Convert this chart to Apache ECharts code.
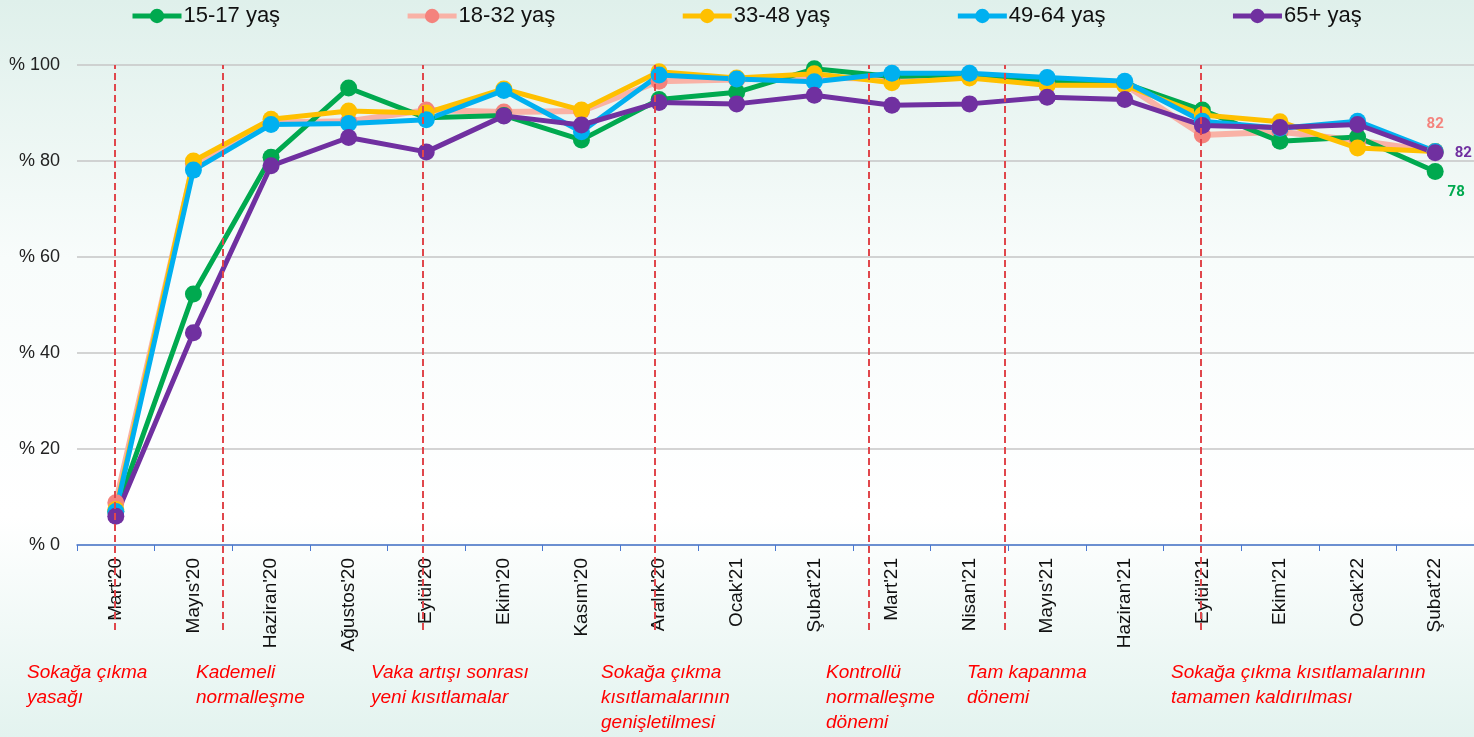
<!DOCTYPE html>
<html>
<head>
<meta charset="utf-8">
<script src="https://cdn.jsdelivr.net/npm/echarts@6/dist/echarts.min.js"></script>
<style>
html,body{margin:0;padding:0;}
#c{width:1474px;height:737px;}
</style>
</head>
<body>
<div id="c"></div>
<script>
const categories = ["Mart'20","Mayıs'20","Haziran'20","Ağustos'20","Eylül'20","Ekim'20","Kasım'20","Aralık'20","Ocak'21","Şubat'21","Mart'21","Nisan'21","Mayıs'21","Haziran'21","Eylül'21","Ekim'21","Ocak'22","Şubat'22"];
const s15_17 = [7, 52.3, 80.8, 95.2, 89, 89.5, 84.4, 92.8, 94.3, 99.2, 97.6, 98, 96.6, 96.2, 90.6, 84.1, 85, 77.8];
const s18_32 = [8.8, 79.5, 88, 88.3, 90.6, 90.2, 90.4, 96.6, 97, 97.5, 97, 97.6, 96, 95.9, 85.4, 86.1, 84.3, 82];
const s33_48 = [7.4, 80, 88.7, 90.4, 90, 95, 90.6, 98.6, 97.3, 98.2, 96.3, 97.3, 95.8, 95.8, 89.6, 88.2, 82.7, 82];
const s49_64 = [7, 78.1, 87.6, 87.8, 88.6, 94.7, 86.1, 97.9, 97.1, 96.5, 98.3, 98.3, 97.4, 96.6, 88.3, 86.8, 88.3, 82];
const s65 = [6, 44.2, 79, 84.9, 81.9, 89.4, 87.5, 92.2, 91.9, 93.7, 91.6, 91.9, 93.3, 92.8, 87.4, 87, 87.6, 81.7];
const seriesNames = ["15-17 yaş","18-32 yaş","33-48 yaş","49-64 yaş","65+ yaş"];
const yTicks = [0, 20, 40, 60, 80, 100];
// period boundaries, in category-index units
const periodLines = [-0.02, 1.38, 3.965, 6.95, 9.70, 11.45, 13.98];
const periodTexts = ["Sokağa çıkma\nyasağı","Kademeli\nnormalleşme","Vaka artışı sonrası\nyeni kısıtlamalar","Sokağa çıkma\nkısıtlamalarının\ngenişletilmesi","Kontrollü\nnormalleşme\ndönemi","Tam kapanma\ndönemi","Sokağa çıkma kısıtlamalarının\ntamamen kaldırılması"];
const periodTextX = [27, 196, 371, 601, 826, 967, 1171];

const chart = echarts.init(document.getElementById('c'));
const gridL = 77, gridR = 0;

function lineSeries(name, data, color, lineColor, width, labelCfg) {
  const d = data.map((v, i) => {
    if (i === data.length - 1 && labelCfg) {
      return { value: v, label: Object.assign({ show: true, formatter: () => String(Math.round(v)), color: color, fontWeight: 'bold', fontSize: 15, fontFamily: 'Roboto, Arial, sans-serif' }, labelCfg) };
    }
    return v;
  });
  return {
    name: name, type: 'line', data: d, xAxisIndex: 0, yAxisIndex: 0,
    symbol: 'circle', symbolSize: 17, showSymbol: true,
    itemStyle: { color: color },
    lineStyle: { color: lineColor || color, width: width || 5 },
    emphasis: { disabled: true },
    animation: false
  };
}

const option = {
  backgroundColor: {
    type: 'linear', x: 0, y: 0, x2: 0, y2: 1,
    colorStops: [
      { offset: 0, color: '#dff0eb' },
      { offset: 0.35, color: '#f8fcfb' },
      { offset: 0.7, color: '#ffffff' },
      { offset: 1, color: '#e3f3ef' }
    ]
  },
  animation: false,
  legend: {
    data: seriesNames,
    left: 130, top: 5, padding: 0,
    itemWidth: 49, itemHeight: 18, itemGap: 125,
    lineStyle: { width: 5 },
    textStyle: { fontSize: 22, color: '#111', fontFamily: 'Liberation Sans, Arial, sans-serif', padding: [0, 0, 0, -3] }
  },
  grid: [
    { left: gridL, right: gridR, top: 65, bottom: 192 },
    { left: gridL, right: gridR, top: 65, bottom: 107 }
  ],
  xAxis: [
    {
      type: 'category', data: categories, gridIndex: 0, boundaryGap: true,
      axisLine: { show: true, lineStyle: { color: '#4a78d0', width: 1.5 } },
      axisTick: { show: true, length: 6, lineStyle: { color: '#4a78d0' } },
      axisLabel: { rotate: 90, fontSize: 19, color: '#111', margin: 13, fontFamily: 'Liberation Sans, Arial, sans-serif', interval: 0 }
    },
    { type: 'value', gridIndex: 1, min: -0.5, max: 17.5, show: false }
  ],
  yAxis: [
    {
      type: 'value', gridIndex: 0, min: 0, max: 100, interval: 20,
      axisLine: { show: false }, axisTick: { show: false },
      splitLine: { lineStyle: { color: '#c6c6c6', width: 1.5 } },
      axisLabel: { fontSize: 18, color: '#222', margin: 17, fontFamily: 'Liberation Sans, Arial, sans-serif', formatter: v => '% ' + v }
    },
    { type: 'value', gridIndex: 1, min: 0, max: 1, show: false }
  ],
  series: [
    lineSeries(seriesNames[1], s18_32, '#f4837d', '#f9b2a6', 6, { position: 'top', offset: [0, -6] }),
    lineSeries(seriesNames[0], s15_17, '#00a94f', null, 5, { position: 'bottom', offset: [21, 0] }),
    lineSeries(seriesNames[2], s33_48, '#ffc000', null, 5, null),
    lineSeries(seriesNames[3], s49_64, '#00b0f0', null, 5, null),
    lineSeries(seriesNames[4], s65, '#7030a0', null, 5, { position: 'right', offset: [6, 0] }),
    {
      name: 'periods', type: 'scatter', xAxisIndex: 1, yAxisIndex: 1, data: [], z: 20,
      silent: true,
      markLine: {
        silent: true, symbol: ['none', 'none'], animation: false,
        label: { show: false },
        lineStyle: { color: '#e0474c', type: [7, 4], width: 2 },
        emphasis: { disabled: true },
        data: periodLines.map(v => ({ xAxis: v }))
      }
    }
  ],
  graphic: periodTexts.map((t, i) => ({
    type: 'text', left: periodTextX[i], top: 660, silent: true,
    style: { text: t, fill: '#ff0000', font: 'italic 19px "Liberation Sans", Arial, sans-serif', lineHeight: 25 }
  }))
};
chart.setOption(option);
</script>
</body>
</html>
